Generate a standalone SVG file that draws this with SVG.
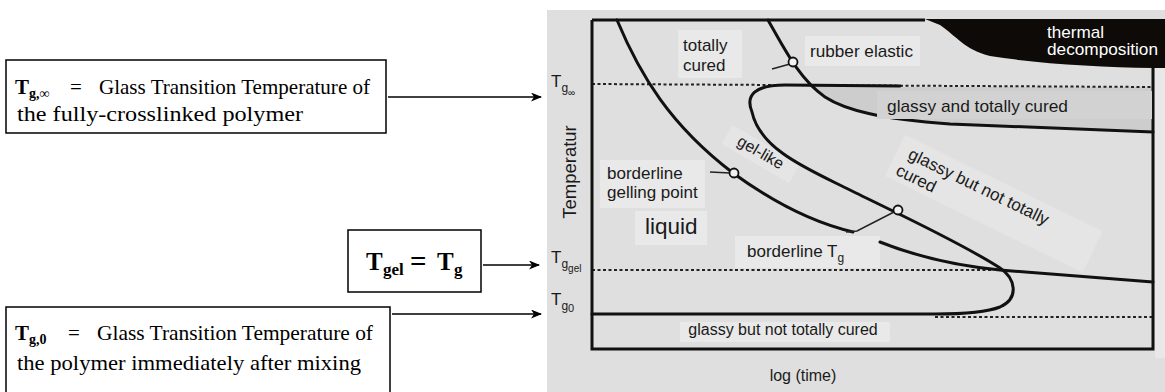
<svg xmlns="http://www.w3.org/2000/svg" width="1165" height="392" viewBox="0 0 1165 392">
<style>
.ser{font-family:"Liberation Serif","Times New Roman",serif;fill:#000}
.b{font-weight:bold}
.box{fill:#fff;stroke:#000;stroke-width:1.5}
.conn{stroke:#000;stroke-width:1.5;fill:none;marker-end:url(#ah)}
.lbl{font-family:"Liberation Sans",Arial,sans-serif;fill:#1a1a1a}
.wt{fill:#fff}
.frame{fill:none;stroke:#111;stroke-width:3}
.thick{fill:none;stroke:#111;stroke-width:3;stroke-linecap:round}
.dot{fill:none;stroke:#222;stroke-width:2;stroke-dasharray:3 2.5}
.thin{fill:none;stroke:#222;stroke-width:1.5}
.circ{fill:#f2f2f2;stroke:#111;stroke-width:1.8}
.lt{fill:#e9e9e9}
.lt2{fill:#e5e5e5}
</style>
<defs>
<marker id="ah" markerUnits="userSpaceOnUse" markerWidth="11" markerHeight="9" refX="10" refY="4.5" orient="auto">
<path d="M0,0 L11,4.5 L0,9 L3,4.5 Z" fill="#000"/>
</marker>
</defs>
<rect width="1165" height="392" fill="#fff"/>
<g id="chart">
<rect x="547" y="10" width="618" height="382" fill="#dfdfdf"/>
<rect x="1155" y="68" width="10" height="290" fill="#e8e8e8"/>
<path d="M800,87 L1153,87 L1153,131 L950,124 C880,119 845,110 825,97 L812,87 Z" fill="#cdcdcd"/>
<path d="M925,19 L1165,19 L1165,68 L1153,68 C1100,67 1040,64 990,56 C965,50 955,35 940,25 Z" fill="#0d0a08"/>
<rect class="lt" x="678" y="30" width="64" height="48"/>
<rect class="lt" x="805" y="36" width="115" height="30"/>
<rect class="lt" x="600" y="160" width="105" height="48"/>
<rect class="lt" x="635" y="211" width="72" height="34"/>
<rect class="lt" x="735" y="236" width="145" height="32"/>
<rect class="lt" x="680" y="322" width="210" height="20"/>
<g transform="translate(758,157) rotate(30)"><rect class="lt2" x="-38" y="-15" width="78" height="22"/></g>
<g transform="translate(907,158) rotate(26)"><rect class="lt2" x="-12" y="-20" width="220" height="46"/></g>
<line class="dot" x1="592" y1="84" x2="1153" y2="87"/>
<line class="dot" x1="592" y1="270" x2="992" y2="270"/>
<line class="dot" x1="935" y1="317" x2="1153" y2="317"/>
<path class="frame" d="M592,20 L925,20 M592,20 L592,349 L1153,349 L1153,68"/>
<path class="thick" d="M617,20 C640,75 670,125 733,173 C770,200 810,222 853,232"/>
<path class="thick" d="M768,20 C785,50 800,80 825,97 C845,110 880,119 950,124 L1153,132"/>
<rect x="877" y="91" width="275" height="28" fill="#d2d2d2"/>
<path class="thick" d="M900,86 L785,85 C755,85 745,95 752,112 C760,150 810,170 850,190 C890,210 960,242 1000,268 C1015,278 1020,298 1000,307 C985,313 960,314 935,314 L592,314"/>
<path class="thick" d="M880,242 C920,258 960,266 1000,270 L1153,282"/>
<path class="thin" d="M772,69 L790,64"/>
<path class="thin" d="M710,172 L730,173"/>
<path class="thin" d="M846,232 L857,231 L894,212"/>
<circle class="circ" cx="793" cy="62" r="4.5"/>
<circle class="circ" cx="734" cy="173" r="4.5"/>
<circle class="circ" cx="898" cy="210" r="4.5"/>
<text class="lbl" x="683" y="51" font-size="17">totally</text>
<text class="lbl" x="683" y="71" font-size="17">cured</text>
<text class="lbl" x="810" y="57" font-size="17" textLength="103" lengthAdjust="spacingAndGlyphs">rubber elastic</text>
<text class="lbl wt" x="1047" y="38" font-size="17" textLength="57" lengthAdjust="spacingAndGlyphs">thermal</text>
<text class="lbl wt" x="1047" y="55" font-size="17" textLength="111" lengthAdjust="spacingAndGlyphs">decomposition</text>
<text class="lbl" x="887" y="112" font-size="17" textLength="181" lengthAdjust="spacingAndGlyphs">glassy and totally cured</text>
<text class="lbl" x="607" y="179" font-size="17">borderline</text>
<text class="lbl" x="607" y="198" font-size="17">gelling point</text>
<text class="lbl" x="645" y="234" font-size="22.5">liquid</text>
<text class="lbl" x="747" y="257" font-size="17">borderline T<tspan font-size="12" dy="5">g</tspan></text>
<text class="lbl" x="783" y="335" font-size="16" text-anchor="middle">glassy but not totally cured</text>
<text class="lbl" x="803" y="381" font-size="16" text-anchor="middle">log (time)</text>
<g transform="translate(758,157) rotate(30)"><text class="lbl" x="0" y="0" font-size="16" text-anchor="middle">gel-like</text></g>
<g transform="translate(907,158) rotate(26)"><text class="lbl" x="0" y="0" font-size="17">glassy but not totally</text><text class="lbl" x="-4" y="20" font-size="17">cured</text></g>
<text class="lbl" x="551" y="87" font-size="17">T<tspan font-size="12" dy="5">g</tspan><tspan font-size="10" dy="4">∞</tspan></text>
<text class="lbl" x="551" y="263" font-size="17">T<tspan font-size="12" dy="5">g</tspan><tspan font-size="10" dy="4">gel</tspan></text>
<text class="lbl" x="551" y="305" font-size="17">T<tspan font-size="12" dy="5">g</tspan><tspan font-size="11" dy="2">0</tspan></text>
<g transform="translate(576,172) rotate(-90)"><text class="lbl" x="0" y="0" font-size="18.5" text-anchor="middle">Temperatur</text></g>
</g>
<g id="node-tginf">
<rect class="box" x="6" y="60" width="380" height="73"/>
<text class="ser" x="15" y="94" font-size="21"><tspan class="b">T</tspan><tspan class="b" font-size="14" dy="4">g,∞</tspan></text>
<text class="ser" x="70" y="94" font-size="21">=</text>
<text class="ser" x="99" y="94" font-size="21" textLength="271" lengthAdjust="spacingAndGlyphs">Glass Transition Temperature of</text>
<text class="ser" x="17" y="121" font-size="21" textLength="286" lengthAdjust="spacingAndGlyphs">the fully-crosslinked polymer</text>
</g>
<g id="node-tgel">
<rect class="box" x="348" y="230" width="133" height="62"/>
<text class="ser b" x="366" y="270" font-size="25">T</text>
<text class="ser b" x="383" y="275" font-size="17">gel</text>
<text class="ser b" x="410" y="271" font-size="29">=</text>
<text class="ser b" x="437" y="270" font-size="25">T</text>
<text class="ser b" x="454" y="275" font-size="17">g</text>
</g>
<g id="node-tg0">
<rect class="box" x="6" y="307" width="384" height="90"/>
<text class="ser" x="15" y="340" font-size="21"><tspan class="b">T</tspan><tspan class="b" font-size="14" dy="4">g,0</tspan></text>
<text class="ser" x="68" y="340" font-size="21">=</text>
<text class="ser" x="97" y="340" font-size="21" textLength="276" lengthAdjust="spacingAndGlyphs">Glass Transition Temperature of</text>
<text class="ser" x="17" y="370" font-size="21" textLength="344" lengthAdjust="spacingAndGlyphs">the polymer immediately after mixing</text>
</g>
<g id="connectors">
<line class="conn" x1="388" y1="97" x2="541" y2="97"/>
<line class="conn" x1="483" y1="265" x2="539" y2="265"/>
<line class="conn" x1="392" y1="314" x2="541" y2="314"/>
</g>
</svg>
